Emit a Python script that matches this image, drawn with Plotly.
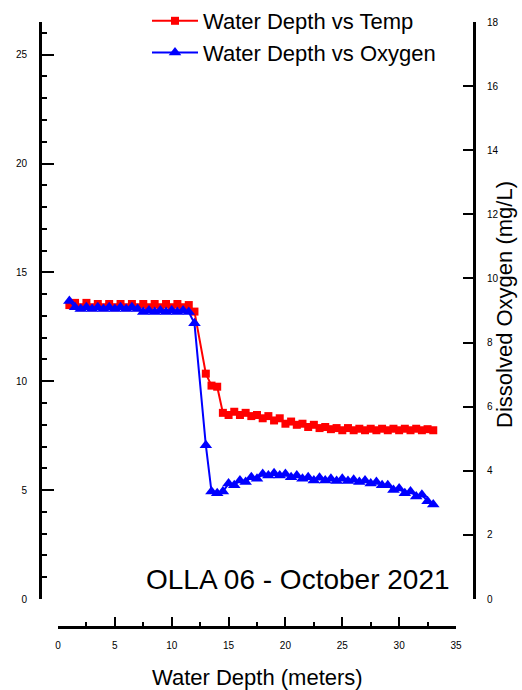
import plotly.graph_objects as go

depth = [1.0, 1.5, 2.0, 2.5, 3.0, 3.5, 4.0, 4.5, 5.0, 5.5, 6.0, 6.5, 7.0, 7.5, 8.0, 8.5,
         9.0, 9.5, 10.0, 10.5, 11.0, 11.5, 12.0, 12.5, 13.0, 13.5, 14.0, 14.5, 15.0, 15.5,
         16.0, 16.5, 17.0, 17.5, 18.0, 18.5, 19.0, 19.5, 20.0, 20.5, 21.0, 21.5, 22.0, 22.5,
         23.0, 23.5, 24.0, 24.5, 25.0, 25.5, 26.0, 26.5, 27.0, 27.5, 28.0, 28.5, 29.0, 29.5,
         30.0, 30.5, 31.0, 31.5, 32.0, 32.5, 33.0]

temp = [13.5, 13.6, 13.4, 13.6, 13.4, 13.55, 13.4, 13.55, 13.4, 13.55, 13.4, 13.55, 13.4, 13.55,
        13.4, 13.55, 13.4, 13.55, 13.4, 13.55, 13.4, 13.5, 13.2, None, 10.35, 9.8, 9.75, 8.55,
        8.45, 8.6, 8.45, 8.55, 8.4, 8.45, 8.3, 8.4, 8.2, 8.3, 8.05, 8.15, 8.0, 8.05, 7.9, 8.0,
        7.85, 7.9, 7.8, 7.85, 7.75, 7.85, 7.75, 7.82, 7.75, 7.82, 7.75, 7.82, 7.75, 7.82,
        7.75, 7.82, 7.75, 7.82, 7.75, 7.8, 7.75]

oxygen = [9.3, 9.1, 9.05, 9.1, 9.05, 9.1, 9.05, 9.1, 9.05, 9.1, 9.05, 9.1, 9.05, 8.95,
          9.0, 8.95, 9.0, 8.95, 9.0, 8.95, 9.0, 8.95, 8.6, None, 4.8, 3.35, 3.3, 3.35,
          3.6, 3.55, 3.7, 3.65, 3.8, 3.75, 3.9, 3.85, 3.92, 3.85, 3.9, 3.8, 3.85, 3.75,
          3.8, 3.7, 3.78, 3.7, 3.75, 3.68, 3.75, 3.68, 3.72, 3.65, 3.7, 3.6, 3.65, 3.55,
          3.55, 3.4, 3.45, 3.3, 3.35, 3.2, 3.25, 3.05, 2.95]

FONT = "Arial, Liberation Sans, sans-serif"

fig = go.Figure()
fig.add_trace(go.Scatter(
    x=depth, y=temp, name="Water Depth vs Temp", mode="lines+markers",
    connectgaps=True,
    line=dict(color="#FF0000", width=2),
    marker=dict(symbol="square", size=8, color="#FF0000"),
    yaxis="y"))
fig.add_trace(go.Scatter(
    x=depth, y=oxygen, name="Water Depth vs Oxygen", mode="lines+markers",
    connectgaps=True,
    line=dict(color="#0000FF", width=2),
    marker=dict(symbol="triangle-up", size=11, color="#0000FF"),
    yaxis="y2"))

W, H = 522, 690
L, R, T, B = 40, 474, 22, 627
pw, ph = R - L, B - T

def px(xp):
    return (xp - L) / pw

def py(yp):
    return (B - yp) / ph

ydom0 = py(599)

fig.update_layout(
    width=W, height=H,
    margin=dict(l=L, r=W - R, t=T, b=H - B, pad=0, autoexpand=False),
    paper_bgcolor="white", plot_bgcolor="white",
    font=dict(family=FONT, color="black"),
    showlegend=True,
    legend=dict(x=147 / W, xref="container", y=1.0, yref="container",
                xanchor="left", yanchor="top",
                font=dict(size=22, family=FONT), bgcolor="rgba(0,0,0,0)",
                itemwidth=46, tracegroupgap=0),
    xaxis=dict(domain=[px(58), px(456)], range=[0, 35], anchor="free", position=0,
               showline=True, linecolor="black", linewidth=3, showgrid=False, zeroline=False,
               ticks="inside", ticklen=9, tickwidth=2, tickcolor="black", dtick=5, tick0=0,
               tickfont=dict(size=10), ticklabelstandoff=8,
               minor=dict(ticks="inside", ticklen=4, tickwidth=2, tickcolor="black", dtick=2.5)),
    yaxis=dict(domain=[ydom0, 1], range=[0, 26.5], anchor="free", position=0, side="left",
               showline=True, linecolor="black", linewidth=3, showgrid=False, zeroline=False,
               ticks="inside", ticklen=12, tickwidth=2, tickcolor="black", dtick=5, tick0=0,
               tickfont=dict(size=10), ticklabelstandoff=10,
               minor=dict(ticks="inside", ticklen=5, tickwidth=2, tickcolor="black", dtick=1)),
    yaxis2=dict(domain=[ydom0, 1], range=[0, 18], anchor="free", position=1, side="right",
                overlaying="y",
                showline=True, linecolor="black", linewidth=3, showgrid=False, zeroline=False,
                ticks="inside", ticklen=10, tickwidth=2, tickcolor="black", dtick=2, tick0=0,
                tickfont=dict(size=10), ticklabelstandoff=9),
    annotations=[
        dict(text="OLLA 06 - October 2021", xref="paper", yref="paper",
             x=px(452), y=py(579), xanchor="right", yanchor="middle", showarrow=False,
             font=dict(size=28, family=FONT, color="black")),
        dict(text="Water Depth (meters)", xref="paper", yref="paper",
             x=px(257), y=py(677), xanchor="center", yanchor="middle", showarrow=False,
             font=dict(size=22, family=FONT, color="black")),
        dict(text="Dissolved Oxygen (mg/L)", xref="paper", yref="paper",
             x=px(504), y=py(305), xanchor="center", yanchor="middle", showarrow=False,
             textangle=-90, font=dict(size=22, family=FONT, color="black")),
    ],
)

fig.write_html("out.html")
